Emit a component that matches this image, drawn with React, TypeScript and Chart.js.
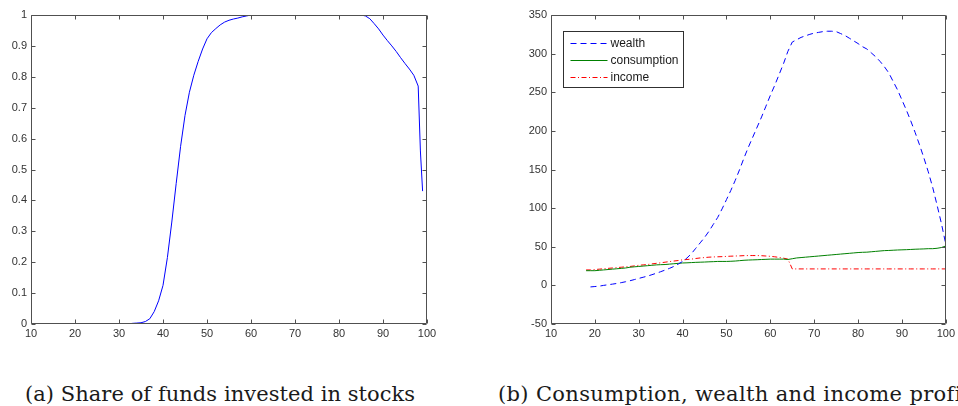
import React, { useEffect, useRef } from 'react';
import { Chart, registerables } from 'chart.js';

Chart.register(...registerables);

// ---- Panel (a): share of funds invested in stocks ----
const stockAges = [32, 33, 34, 35, 36, 37, 38, 39, 40, 41, 42, 43, 44, 45, 46, 47, 48, 49, 50,
  51, 52, 53, 54, 55, 56, 57, 58, 59, 60, 65, 70, 75, 80, 85, 86, 87, 88, 89, 90, 91, 92, 93, 94,
  95, 96, 97, 98, 98.5, 99];
const stockShare = [0, 0.002, 0.003, 0.004, 0.008, 0.017, 0.04, 0.075, 0.125, 0.215, 0.33, 0.455,
  0.575, 0.675, 0.75, 0.805, 0.85, 0.89, 0.923, 0.943, 0.956, 0.968, 0.977, 0.983, 0.987, 0.99,
  0.994, 0.997, 1, 1, 1, 1, 1, 1, 0.997, 0.988, 0.972, 0.955, 0.935, 0.917, 0.9, 0.882, 0.862,
  0.843, 0.825, 0.805, 0.77, 0.56, 0.43];

// ---- Panel (b): consumption, wealth and income profiles ----
const profileAges = [18, 19, 20, 21, 22, 23, 24, 25, 26, 27, 28, 29, 30, 31, 32, 33, 34, 35, 36,
  37, 38, 39, 40, 41, 42, 43, 44, 45, 46, 47, 48, 49, 50, 51, 52, 53, 54, 55, 56, 57, 58, 59, 60,
  61, 62, 63, 64, 65, 66, 67, 68, 69, 70, 71, 72, 73, 74, 75, 76, 77, 78, 79, 80, 81, 82, 83, 84,
  85, 86, 87, 88, 89, 90, 91, 92, 93, 94, 95, 96, 97, 98, 99, 100];
const wealth = [null, -2, -1.5, -1, 0, 0.8, 1.6, 2.5, 3.5, 4.7, 6, 7.5, 9, 10.5, 12, 13.8, 15.7,
  17.7, 19.8, 22, 24.5, 27.5, 31, 35.5, 41, 48, 55, 62, 70, 79, 88, 99, 111, 123, 136, 150, 165,
  179, 192, 205, 218, 232, 246, 259, 273, 287, 303, 315, 318, 321, 323, 325, 326.5, 327.5, 328.5,
  329, 329, 328.5, 326, 323.5, 320, 316.5, 313, 309, 306, 301, 296, 290, 283, 275, 264, 253, 240,
  227, 213, 198, 182, 165, 147, 127, 104, 80, 53];
const consumption = [19, 19, 19, 19.5, 20, 20.5, 21, 21.5, 22, 22.5, 23.5, 24, 24.5, 25, 25.5,
  26, 26.5, 26.8, 27, 27.5, 28, 28.5, 29, 29.2, 29.5, 29.8, 30, 30.2, 30.5, 30.7, 31, 31, 31, 31.2,
  31.5, 32, 32.5, 32.8, 33, 33.2, 33.5, 33.7, 34, 34, 34, 34, 33.5, 34.5, 35.5, 36, 36.5, 37, 37.5,
  38, 38.5, 39, 39.5, 40, 40.5, 41, 41.5, 42, 42.5, 42.8, 43, 43.5, 44, 44.5, 45, 45.2, 45.5, 45.8,
  46, 46.2, 46.5, 46.8, 47, 47.2, 47.5, 47.5, 48, 49, 51];
const income = [20, 20, 20.5, 21, 21.5, 22, 22.5, 23, 23.5, 24, 24.5, 25.2, 26, 26.5, 27, 27.8,
  28.5, 29.2, 30, 30.8, 31.5, 32.2, 33, 33.5, 34, 34.8, 35.5, 36, 36.5, 36.8, 37, 37.2, 37.5, 37.8,
  38, 38.2, 38.5, 38.6, 38.6, 38.6, 38.4, 38, 37.6, 37, 36.2, 35.2, 34, 21.3, 21.3, 21.3, 21.3,
  21.3, 21.3, 21.3, 21.3, 21.3, 21.3, 21.3, 21.3, 21.3, 21.3, 21.3, 21.3, 21.3, 21.3, 21.3, 21.3,
  21.3, 21.3, 21.3, 21.3, 21.3, 21.3, 21.3, 21.3, 21.3, 21.3, 21.3, 21.3, 21.3, 21.3, 21.3, 21.3];

const legendLabels = ['wealth', 'consumption', 'income'];

const TICK_FONT = { family: '"Liberation Sans", Arial, sans-serif', size: 11 };
const AXIS_COLOR = '#505050';

const boxTicks = {
  id: 'boxTicks',
  afterDraw(chart: any) {
    const { ctx, chartArea: a, scales } = chart;
    const L = Math.round(a.left) + 0.5;
    const R = Math.round(a.right) - 0.5;
    const T = Math.round(a.top) + 0.5;
    const B = Math.round(a.bottom) - 0.5;
    ctx.save();
    ctx.strokeStyle = AXIS_COLOR;
    ctx.lineWidth = 1;
    ctx.beginPath();
    ctx.rect(L, T, R - L, B - T);
    const len = 4;
    for (const t of scales.x.ticks) {
      const px = Math.round(scales.x.getPixelForValue(t.value)) + 0.5;
      ctx.moveTo(px, B); ctx.lineTo(px, B - len);
      ctx.moveTo(px, T); ctx.lineTo(px, T + len);
    }
    for (const t of scales.y.ticks) {
      const py = Math.round(scales.y.getPixelForValue(t.value)) + 0.5;
      ctx.moveTo(L, py); ctx.lineTo(L + len, py);
      ctx.moveTo(R, py); ctx.lineTo(R - len, py);
    }
    ctx.stroke();
    ctx.restore();
  },
};

const boxLegend = {
  id: 'boxLegend',
  afterDraw(chart: any) {
    const opts = chart.options.plugins.boxLegend;
    if (!opts || !opts.show) return;
    const { ctx, chartArea: a } = chart;
    const x0 = Math.round(a.left + 11.5) + 0.5;
    const y0 = Math.round(a.top + 16) + 0.5;
    const w = 120;
    const h = 56;
    ctx.save();
    ctx.fillStyle = '#fff';
    ctx.fillRect(x0, y0, w, h);
    ctx.strokeStyle = '#303030';
    ctx.lineWidth = 1;
    ctx.strokeRect(x0, y0, w, h);
    ctx.font = '12px "Liberation Sans", Arial, sans-serif';
    ctx.textBaseline = 'middle';
    chart.data.datasets.forEach((ds: any, i: number) => {
      const cy = Math.round(y0 + 11 + i * 17.3) + 0.5;
      ctx.beginPath();
      ctx.setLineDash(ds.borderDash || []);
      ctx.strokeStyle = ds.borderColor;
      ctx.moveTo(x0 + 7, cy);
      ctx.lineTo(x0 + 44, cy);
      ctx.stroke();
      ctx.setLineDash([]);
      ctx.fillStyle = '#1a1a1a';
      ctx.fillText(ds.label, x0 + 47, cy);
    });
    ctx.restore();
  },
};

function baseScales(yMin: number, yMax: number, yStep: number, yWidth: number, fmt: (v: number) => string) {
  return {
    x: {
      type: 'linear',
      min: 10,
      max: 100,
      ticks: { stepSize: 10, color: '#333', font: TICK_FONT, padding: 3, maxRotation: 0, autoSkip: false },
      grid: { display: false, drawTicks: false },
      border: { display: false },
      afterFit: (s: any) => { s.height = 21; },
    },
    y: {
      type: 'linear',
      min: yMin,
      max: yMax,
      ticks: { stepSize: yStep, color: '#333', font: TICK_FONT, padding: 4, autoSkip: false, callback: (v: any) => fmt(Number(v)) },
      grid: { display: false, drawTicks: false },
      border: { display: false },
      afterFit: (s: any) => { s.width = yWidth; },
    },
  };
}

function ShareChart() {
  const ref = useRef<HTMLCanvasElement>(null);
  useEffect(() => {
    const chart = new Chart(ref.current as HTMLCanvasElement, {
      type: 'line',
      data: {
        datasets: [{
          label: 'share',
          data: stockAges.map((a, i) => ({ x: a, y: stockShare[i] })),
          borderColor: '#0000ff',
          borderWidth: 1,
          pointRadius: 0,
          tension: 0,
          fill: false,
        }],
      },
      options: {
        responsive: false,
        animation: false,
        events: [],
        layout: { padding: { left: 0, top: 15, right: 53, bottom: 0 }, autoPadding: false },
        plugins: { legend: { display: false }, tooltip: { enabled: false } },
        scales: baseScales(0, 1, 0.1, 31, (v) => String(Math.round(v * 10) / 10)),
      } as any,
      plugins: [boxTicks],
    });
    return () => chart.destroy();
  }, []);
  return <canvas ref={ref} width={480} height={345} style={{ width: 480, height: 345, display: 'block' }} />;
}

function ProfileChart() {
  const ref = useRef<HTMLCanvasElement>(null);
  useEffect(() => {
    const mk = (vals: (number | null)[]) => profileAges.map((a, i) => ({ x: a, y: vals[i] }));
    const chart = new Chart(ref.current as HTMLCanvasElement, {
      type: 'line',
      data: {
        datasets: [
          { label: legendLabels[0], data: mk(wealth), borderColor: '#0000ff', borderDash: [6, 4], borderWidth: 1, pointRadius: 0, tension: 0, fill: false, spanGaps: false },
          { label: legendLabels[1], data: mk(consumption), borderColor: '#008000', borderWidth: 1, pointRadius: 0, tension: 0, fill: false },
          { label: legendLabels[2], data: mk(income), borderColor: '#ff0000', borderDash: [5, 2.5, 1, 2.5], borderWidth: 1, pointRadius: 0, tension: 0, fill: false },
        ],
      },
      options: {
        responsive: false,
        animation: false,
        events: [],
        layout: { padding: { left: 0, top: 15, right: 10, bottom: 0 }, autoPadding: false },
        plugins: { legend: { display: false }, tooltip: { enabled: false }, boxLegend: { show: true } },
        scales: baseScales(-50, 350, 50, 71, (v) => String(Math.round(v))),
      } as any,
      plugins: [boxTicks, boxLegend],
    });
    return () => chart.destroy();
  }, []);
  return <canvas ref={ref} width={478} height={345} style={{ width: 478, height: 345, display: 'block' }} />;
}

const captionStyle: React.CSSProperties = {
  position: 'absolute',
  top: 382,
  fontFamily: '"DejaVu Serif", serif',
  fontSize: 21,
  lineHeight: '24px',
  color: '#1a1a1a',
  whiteSpace: 'nowrap',
};

export default function App() {
  return (
    <div style={{ position: 'absolute', left: 0, top: 0, width: 958, height: 406, background: '#fff', overflow: 'hidden' }}>
      <div style={{ position: 'absolute', left: 0, top: 0 }}><ShareChart /></div>
      <div style={{ position: 'absolute', left: 480, top: 0 }}><ProfileChart /></div>
      <div style={{ ...captionStyle, left: 25, letterSpacing: '0.05px' }}>(a) Share of funds invested in stocks</div>
      <div style={{ ...captionStyle, left: 498, letterSpacing: '0.35px' }}>(b) Consumption, wealth and income profiles</div>
    </div>
  );
}
